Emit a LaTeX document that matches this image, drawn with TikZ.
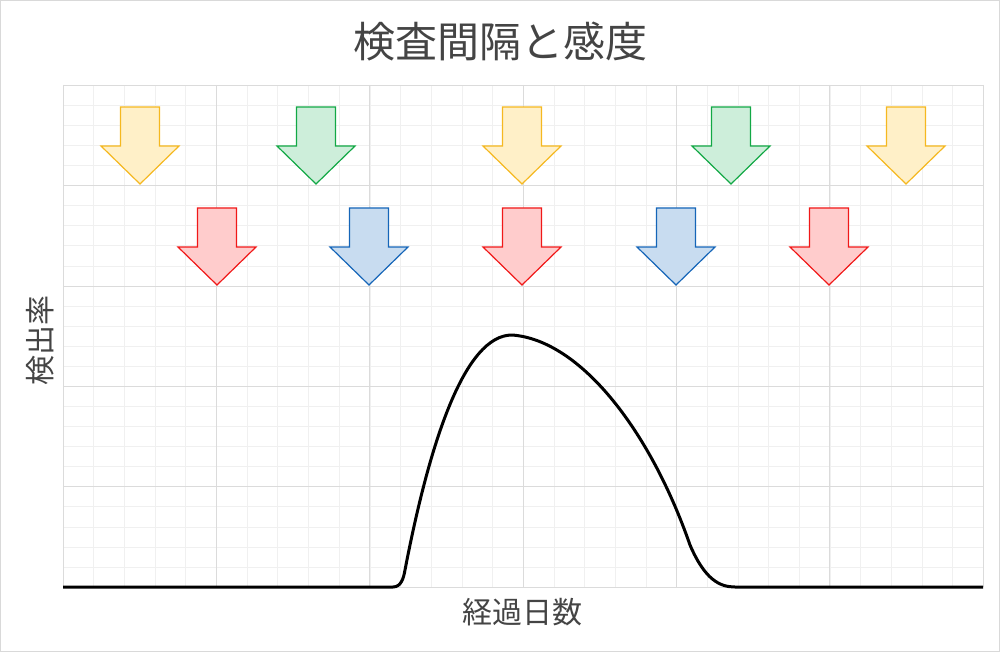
\documentclass[tikz,border=0pt]{standalone}
\usepackage{fontspec}
\newfontfamily\cjk{Noto Sans CJK JP}
\definecolor{ys}{HTML}{F5B820}\definecolor{yf}{HTML}{FFF0C8}
\definecolor{gs}{HTML}{12A845}\definecolor{gf}{HTML}{CDEEDA}
\definecolor{rs}{HTML}{F01818}\definecolor{rf}{HTML}{FFCCCC}
\definecolor{bs}{HTML}{1565B8}\definecolor{bf}{HTML}{C8DCF0}
\definecolor{tx}{HTML}{444444}
\begin{document}
\begin{tikzpicture}[x=1pt,y=-1pt,
  arr/.pic={\path[pic actions] (-19.5,0) -- (19.5,0) -- (19.5,39) -- (39,39) -- (0,77) -- (-39,39) -- (-19.5,39) -- cycle;},
  txt/.style={text=tx,font=\cjk}]
\useasboundingbox (0,0) rectangle (1000,652);
\draw[gray!30] (0.5,0.5) rectangle (999.5,651.5);
\foreach \i in {0,...,30} \draw[black!6] (63+\i*30.67,85) -- (63+\i*30.67,587);
\foreach \j in {0,...,25} \draw[black!6] (63,85+\j*20.08) -- (983,85+\j*20.08);
\foreach \i in {0,...,6} \draw[black!14] (63+\i*153.33,85) -- (63+\i*153.33,587);
\foreach \j in {0,...,5} \draw[black!14] (63,85+\j*100.4) -- (983,85+\j*100.4);
\foreach \x/\c in {140/y,316/g,522/y,731/g,906/y}
  \pic[draw=\c s,fill=\c f,line width=1.2pt] at (\x,107) {arr};
\foreach \x/\c in {217/r,369/b,522/r,676/b,829/r}
  \pic[draw=\c s,fill=\c f,line width=1.2pt] at (\x,208) {arr};
\draw[line width=3pt,line join=round] (63,587) -- (393,587) to[out=0,in=-100] (405,570)
  .. controls (430,440) and (465,335) .. (512,335)
  .. controls (580,340) and (650,430) .. (690,545)
  .. controls (705,580) and (720,587) .. (735,587) -- (983,587);
\node[txt,font=\cjk\fontsize{42}{48}\selectfont] (title) at (500,42) {検査間隔と感度};
\node[txt,font=\cjk\fontsize{30}{34}\selectfont,rotate=90] (yl) at (40,340) {検出率};
\node[txt,font=\cjk\fontsize{30}{34}\selectfont] (xl) at (522,612) {経過日数};
\end{tikzpicture}
\end{document}
